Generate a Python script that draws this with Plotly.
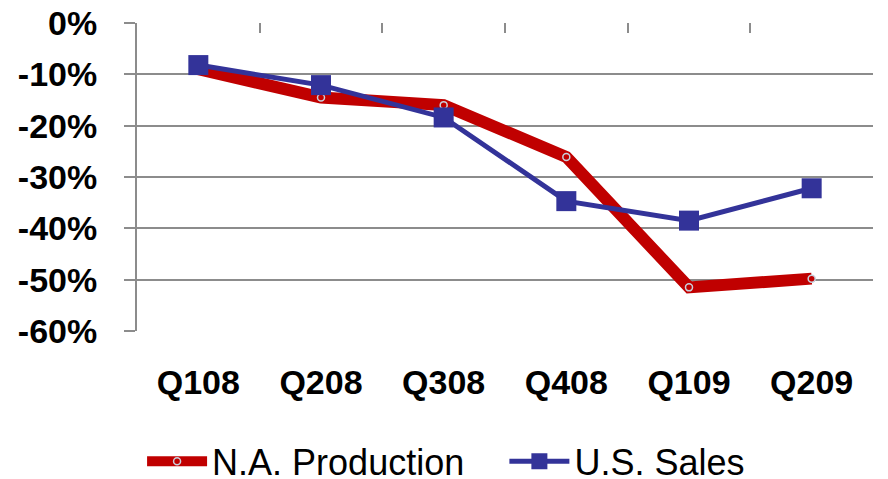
import plotly.graph_objects as go

quarters = ["Q108", "Q208", "Q308", "Q408", "Q109", "Q209"]
na_production = [-9.0, -14.5, -16.0, -26.1, -51.5, -49.8]
us_sales = [-8.2, -12.1, -18.4, -34.7, -38.5, -32.2]

y_ticks = [0, -10, -20, -30, -40, -50, -60]
y_tick_labels = ["0%", "-10%", "-20%", "-30%", "-40%", "-50%", "-60%"]

RED = "#c00000"
BLUE = "#333399"
GRID = "#8c8c8c"
FONT = "Liberation Sans, Arial, sans-serif"

# category slots span the full plot width, one slot per quarter
x_range = [-0.5, len(quarters) - 0.5]

fig = go.Figure()

fig.add_trace(go.Scatter(
    x=quarters, y=na_production, name="N.A. Production",
    mode="lines+markers",
    line=dict(color=RED, width=12),
    marker=dict(symbol="circle", size=7, color=RED,
                line=dict(color="#c8d0dc", width=1.5)),
    xaxis="x", yaxis="y", legend="legend",
))

fig.add_trace(go.Scatter(
    x=quarters, y=us_sales, name="U.S. Sales",
    mode="lines+markers",
    line=dict(color=BLUE, width=5),
    marker=dict(symbol="square", size=20, color=BLUE,
                line=dict(color=BLUE, width=0)),
    xaxis="x2", yaxis="y", legend="legend2",
))

legend_style = dict(
    orientation="h", xanchor="left",
    xref="container", yref="container", y=0.037, yanchor="middle",
    font=dict(family=FONT, size=36, color="black"),
    itemwidth=60, bgcolor="rgba(0,0,0,0)", maxheight=200,
)

fig.update_layout(
    width=888, height=479,
    margin=dict(l=137, r=15, t=23, b=148, autoexpand=False),
    paper_bgcolor="white", plot_bgcolor="white",
    font=dict(family=FONT, color="black"),
    showlegend=True,
    legend=dict(legend_style, x=0.160),
    legend2=dict(legend_style, x=0.568),
    xaxis=dict(
        type="category", categoryorder="array", categoryarray=quarters,
        range=x_range, autorange=False,
        showgrid=False, showline=False, zeroline=False, automargin=False,
        ticks="", ticklabelstandoff=28,
        tickfont=dict(family=FONT, size=34, weight="bold", color="black"),
    ),
    xaxis2=dict(
        type="category", categoryorder="array", categoryarray=quarters,
        range=x_range, autorange=False,
        overlaying="x", side="top", anchor="y",
        showgrid=False, showline=False, zeroline=False, automargin=False,
        showticklabels=False,
        tickson="boundaries", ticks="inside", ticklen=10,
        tickwidth=2, tickcolor=GRID,
    ),
    yaxis=dict(
        range=[-60, 0], autorange=False, tickmode="array",
        tickvals=y_ticks, ticktext=y_tick_labels,
        showgrid=True, gridcolor=GRID, gridwidth=2,
        zeroline=False, automargin=False,
        showline=True, linecolor=GRID, linewidth=2,
        ticks="outside", ticklen=11, tickwidth=2, tickcolor=GRID,
        ticklabelstandoff=20,
        tickfont=dict(family=FONT, size=34, weight="bold", color="black"),
    ),
)

fig.write_html("out.html")
